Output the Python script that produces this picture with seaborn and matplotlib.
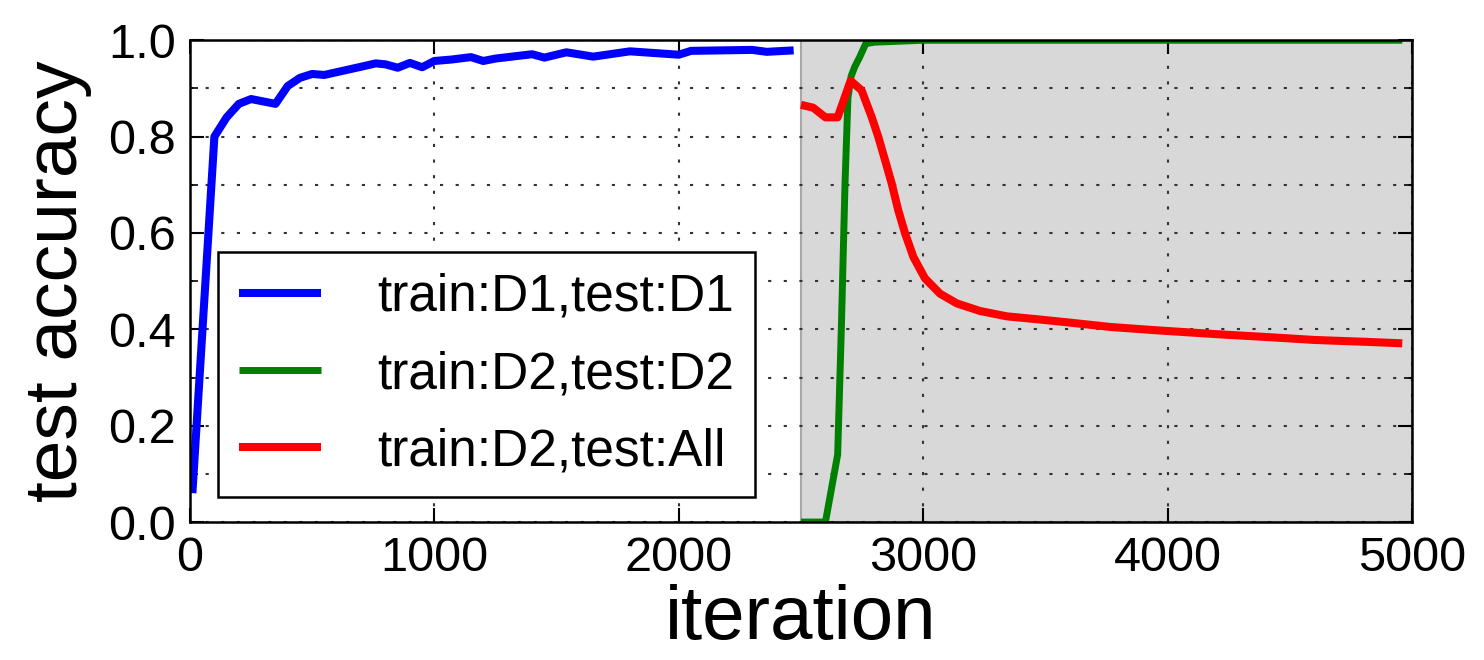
import matplotlib
matplotlib.use("Agg")
import matplotlib.pyplot as plt
from matplotlib.ticker import MultipleLocator, FormatStrFormatter
import numpy as np
import pandas as pd
import seaborn as sns

# ---------------------------------------------------------------------------
# Data
# ---------------------------------------------------------------------------
d1_iter = [10, 100, 150, 200, 250, 350, 400, 450, 500, 550, 620, 700, 760,
           800, 850, 900, 950, 1000, 1070, 1150, 1200, 1250, 1300, 1400,
           1450, 1540, 1650, 1800, 2000, 2050, 2300, 2360, 2470]
d1_acc = [0.06, 0.80, 0.84, 0.868, 0.878, 0.868, 0.905, 0.922, 0.930, 0.928,
          0.936, 0.945, 0.952, 0.950, 0.943, 0.953, 0.944, 0.957, 0.960,
          0.965, 0.957, 0.962, 0.965, 0.971, 0.964, 0.975, 0.966, 0.977,
          0.970, 0.978, 0.980, 0.976, 0.979]

d2_iter = [2500, 2550, 2600, 2650, 2665, 2680, 2692, 2705, 2720, 2740,
           2765, 2800, 2900, 3000, 3500, 4000, 4500, 4960]
d2_acc = [0.0, 0.0, 0.0, 0.14, 0.40, 0.70, 0.88, 0.925, 0.945, 0.965,
          0.993, 0.996, 0.998, 1.0, 1.0, 1.0, 1.0, 1.0]

all_iter = [2500, 2550, 2600, 2650, 2703, 2748, 2789, 2816, 2844, 2871,
            2898, 2926, 2960, 3007, 3069, 3137, 3233, 3342, 3465, 3600,
            3764, 3955, 4200, 4407, 4600, 4816, 4960]
all_acc = [0.866, 0.86, 0.84, 0.84, 0.916, 0.896, 0.841, 0.80, 0.751, 0.703,
           0.647, 0.599, 0.55, 0.506, 0.474, 0.454, 0.438, 0.427, 0.421,
           0.414, 0.405, 0.398, 0.39, 0.384, 0.378, 0.374, 0.371]

labels = ["train:D1,test:D1", "train:D2,test:D2", "train:D2,test:All"]
colors = ["#0000ff", "#008000", "#ff0000"]
widths = [5.8, 5.0, 5.8]
shade_start, shade_end = 2500, 5000

df = pd.concat([
    pd.DataFrame({"iteration": d1_iter, "acc": d1_acc, "run": labels[0]}),
    pd.DataFrame({"iteration": d2_iter, "acc": d2_acc, "run": labels[1]}),
    pd.DataFrame({"iteration": all_iter, "acc": all_acc, "run": labels[2]}),
], ignore_index=True)

# ---------------------------------------------------------------------------
# Plot
# ---------------------------------------------------------------------------
sns.set_style("white")
plt.rcParams["font.family"] = ["Liberation Sans", "DejaVu Sans"]
plt.rcParams["text.color"] = "black"
plt.rcParams["axes.labelcolor"] = "black"
plt.rcParams["xtick.color"] = "black"
plt.rcParams["ytick.color"] = "black"

fig, ax = plt.subplots(figsize=(14.84, 6.6), dpi=100)
fig.subplots_adjust(left=0.128, right=0.9515, bottom=0.209, top=0.939)

ax.axvspan(shade_start, shade_end, facecolor="#d8d8d8", edgecolor="#a8a8a8",
           lw=1.5, zorder=0)

sns.lineplot(data=df, x="iteration", y="acc", hue="run", hue_order=labels,
             palette=colors, ax=ax, sort=False, estimator=None, zorder=3)
for line, lw in zip(ax.get_lines()[:3], widths):
    line.set_linewidth(lw)
    line.set_solid_capstyle("butt")
    line.set_solid_joinstyle("round")

ax.set_xlim(0, 5000)
ax.set_ylim(0, 1.0)
ax.xaxis.set_major_locator(MultipleLocator(1000))
ax.yaxis.set_major_locator(MultipleLocator(0.2))
ax.yaxis.set_minor_locator(MultipleLocator(0.1))
ax.yaxis.set_major_formatter(FormatStrFormatter("%.1f"))

grid_kw = dict(color="#333333", linestyle=(0, (1.5, 6)), linewidth=1.5)
ax.grid(True, axis="x", which="major", **grid_kw)
ax.grid(True, axis="y", which="both", **grid_kw)
for gl in ax.get_xgridlines() + ax.get_ygridlines():
    gl.set_zorder(1)

ax.tick_params(which="both", direction="in", top=True, right=True,
               left=True, bottom=True, color="black")
ax.tick_params(which="major", length=10, width=1.5, labelsize=35, pad=10)
ax.tick_params(which="minor", length=6, width=1.2)

for sp in ax.spines.values():
    sp.set_color("black")
    sp.set_linewidth(1.8)
    sp.set_zorder(4)

ax.set_xlabel("iteration", fontsize=55, labelpad=2)
ax.set_ylabel("test accuracy", fontsize=54, labelpad=12)

leg = ax.legend(loc="lower left", bbox_to_anchor=(0.023, 0.052),
                borderaxespad=0, fontsize=37, frameon=True, fancybox=False,
                handlelength=1.6, handletextpad=1.1, labelspacing=0.55,
                borderpad=0.4)
leg.get_frame().set_edgecolor("black")
leg.get_frame().set_linewidth(1.8)
leg.get_frame().set_facecolor("white")
leg.get_frame().set_alpha(1.0)
leg.set_zorder(5)
for handle, lw in zip(leg.get_lines(), widths):
    handle.set_linewidth(lw)
    handle.set_solid_capstyle("butt")

fig.savefig("out.png", dpi=100)
